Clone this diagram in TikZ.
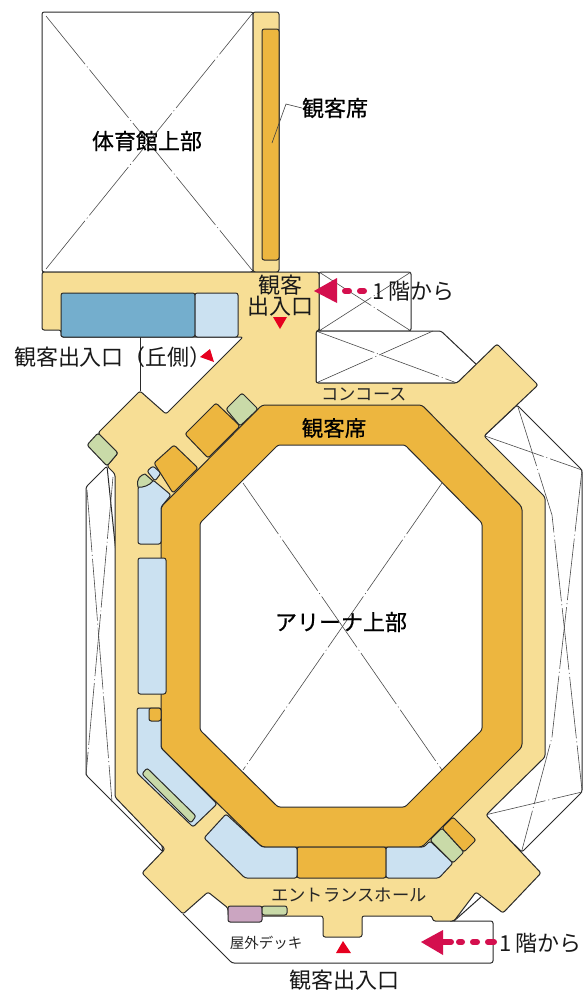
\documentclass[tikz,border=0pt]{standalone}
\usepackage{fontspec}
\setmainfont{Noto Sans CJK JP}
\newfontfamily\heavyjp[FakeBold=0.6]{Noto Sans CJK JP}
\definecolor{cyellow}{HTML}{F7DE95}
\definecolor{corange}{HTML}{EDB63F}
\definecolor{clight}{HTML}{CBE1F1}
\definecolor{cgreen}{HTML}{C9DAA8}
\definecolor{cblue}{HTML}{74AECD}
\definecolor{cpurple}{HTML}{CBA5C1}
\definecolor{cred}{HTML}{E6001F}
\definecolor{cmag}{HTML}{D40F4E}
\definecolor{cline}{HTML}{2A2A2A}
\tikzset{
  wall/.style={draw=cline,line width=1pt,line join=round},
  room/.style={wall,rounded corners=2.2pt},
  yel/.style={room,fill=cyellow},
  ora/.style={room,fill=corange},
  lig/.style={room,fill=clight},
  gre/.style={room,fill=cgreen},
  voidline/.style={draw=black!70,line width=0.6pt,dash pattern=on 62pt off 3pt on 1pt off 3pt},
  redtri/.style={fill=cred,draw=none},
  magtri/.style={fill=cmag,draw=none},
  magdash/.style={draw=cmag,line width=6pt,line cap=round},
  big/.style={text=black!90,inner sep=0pt,font=\fontsize{22}{25}\selectfont,align=center},
  strong/.style={text=black,inner sep=0pt,font=\heavyjp\fontsize{22}{25}\selectfont,align=center},
  mid/.style={text=black!85,inner sep=0pt,font=\fontsize{17.3}{20}\selectfont},
  small/.style={text=black!85,inner sep=0pt,font=\fontsize{14.5}{17}\selectfont}
}
\begin{document}
\begin{tikzpicture}[x=1pt,y=-1pt]
\useasboundingbox (0,0) rectangle (586,994);
\fill[white] (0,0) rectangle (586,994);

% void outlines
\draw[room,fill=white] (42,272) -- (42,12) -- (253,12) -- (253,272) -- cycle;
\draw[voidline] (46,16) -- (252,270);
\draw[voidline] (46,269) -- (252,14);

\draw[room,fill=white] (319,272) -- (411,272) -- (411,331) -- (319,331) -- cycle;
\draw[voidline] (319,331) -- (411,272);
\draw[voidline] (319,272) -- (411,331);

\draw[room,fill=white] (316,331) -- (441,331) -- (478,366) -- (457,383) -- (316,383) -- cycle;
\draw[voidline] (316,331) -- (457,383);
\draw[voidline] (316,383) -- (433,331);

\draw[room,fill=white] (517,405) -- (582,470) -- (582,792) -- (522,852) -- (484,815) -- (540,640) -- (484,436) -- cycle;
\draw[voidline] (485,436) -- (582,470);
\draw[voidline] (485,815) -- (582,792);
\draw[voidline] (518,407) -- (552,515) -- (582,790);
\draw[voidline] (582,470) -- (552,737) -- (522,850);

\draw[room,fill=white] (107,466) -- (86,487) -- (86,775) -- (163,852) -- (125,640) -- cycle;
\draw[voidline] (87,490) -- (112,802);
\draw[voidline] (113,477) -- (86,775);

\draw[wall] (140,337) -- (140,391);

% deck
\draw[room,fill=white] (183,914) -- (232,963) -- (493,963) -- (493,921) -- (450,921);
\draw[wall] (481,897) -- (454,921);

% gym strip
\draw[yel] (253,272) -- (253,12) -- (279,12) -- (279,272) -- cycle;
\draw[ora] (279,29) -- (262,29) -- (262,260) -- (279,260) -- cycle;

% concourse
\draw[yel] (42,272) -- (319,272) -- (319,331) -- (316,331) -- (316,383) -- (457,383)
  -- (497,344) -- (538,385) -- (484,436) -- (545,497) -- (545,757) -- (486,815)
  -- (541,873) -- (503,913) -- (476,892) -- (454,921) -- (433,921) -- (432,916)
  -- (362,916) -- (362,937) -- (323,937) -- (323,916) -- (228,916) -- (228,908)
  -- (208,892) -- (183,914) -- (142,873) -- (165,849) -- (115,797) -- (115,474)
  -- (107,466) -- (118,453) -- (98,433) -- (140,391) -- (166,414) -- (243,337)
  -- (61,337) -- (61,330) -- (42,330) -- cycle;

% arena
\draw[ora,rounded corners=3pt] (262,405) -- (422,405) -- (522,507) -- (522,747) -- (422,847)
  -- (262,847) -- (161,748) -- (161,507) -- cycle;
\draw[room,fill=white] (278,445) -- (405,445) -- (482,523) -- (482,730) -- (405,807)
  -- (278,807) -- (200,730) -- (200,523) -- cycle;
\draw[voidline] (243,483) -- (442,770);
\draw[voidline] (442,483) -- (243,770);

% stands and rooms
\draw[ora] (297,847) -- (386,847) -- (386,878) -- (297,878) -- cycle;
\draw[lig] (386,847) -- (424,847) -- (430,841) -- (453,863) -- (439,878) -- (386,878) -- cycle;
\draw[gre] (430,840) -- (442,828) -- (464,852) -- (453,863) -- cycle;
\draw[ora] (442,828) -- (453,817) -- (476,840) -- (464,852) -- cycle;
\draw[lig] (226,814) -- (262,847) -- (297,847) -- (297,878) -- (245,878) -- (204,838) -- cycle;
\draw[lig] (137,708) -- (161,708) -- (161,748) -- (217,804) -- (193,827) -- (189,823) -- (137,773) -- cycle;
\draw[gre] (147,768) -- (142,774) -- (191,823) -- (196,816) -- cycle;
\draw[ora] (149,708) -- (161,708) -- (161,721) -- (149,721) -- cycle;
\draw[lig] (138,558) -- (166,558) -- (166,694) -- (138,694) -- cycle;
\draw[lig] (138,487) -- (153,480) -- (171,495) -- (161,507) -- (161,544) -- (138,544) -- cycle;
\draw[gre,rounded corners=0pt] (138,487) .. controls (136,478) and (141,475) .. (145,474) -- (153,481) .. controls (150,485) and (143,488) .. (138,487) -- cycle;
\draw[lig] (147,471) -- (153,466) -- (161,473) -- (155,481) -- cycle;
\draw[ora] (154,463) -- (174,445) -- (198,468) -- (173,493) -- cycle;
\draw[ora] (185,434) -- (216,403) -- (240,426) -- (208,458) -- cycle;
\draw[gre] (226,409) -- (242,393) -- (258,409) -- (240,426) -- cycle;
\draw[gre] (98,433) -- (118,453) -- (107,466) -- (87,445) -- cycle;
\draw[room,fill=cblue] (61,293) -- (195,293) -- (195,337) -- (61,337) -- cycle;
\draw[lig] (195,293) -- (238,293) -- (238,337) -- (195,337) -- cycle;
\draw[room,fill=cpurple] (228,906) -- (262,906) -- (262,922) -- (228,922) -- cycle;
\draw[gre] (262,906) -- (287,906) -- (287,915) -- (262,915) -- cycle;

% marks
\fill[redtri] (273,317) -- (287,317) -- (280,329) -- cycle;
\fill[redtri] (200,357) -- (210,349) -- (214,362) -- cycle;
\fill[redtri] (343,941) -- (351,953) -- (336,953) -- cycle;

\fill[magtri] (314,291) -- (337,278) -- (337,303) -- cycle;
\draw[magdash] (345,291) -- (349,291);
\draw[magdash] (360,291) -- (364,291);
\fill[magtri] (421,942) -- (443,930) -- (443,955) -- cycle;
\draw[magdash] (443,942) -- (451,942);
\draw[magdash] (459,942) -- (462,942);
\draw[magdash] (473,942) -- (477,942);
\draw[magdash] (488,942) -- (494,942);

% labels
\coordinate (leadA) at (272,143);
\coordinate (leadB) at (286,104);
\node[strong] (seatgym) at (335,108) {観客席};
\draw[draw=black!75,line width=0.6pt] (leadA) -- (leadB) -- (seatgym.west);
\node[strong] (gym) at (147,141) {体育館上部};
\node[big,font=\fontsize{22}{21}\selectfont] (door) at (280,296) {観客\\出入口};
\node[big] (fromA) at (413.5,291) {1\hspace{4pt}階から};
\node[big] (hill) at (113,357) {観客出入口（丘側）};
\node[mid] (conc) at (364,394) {コンコース};
\node[strong,font=\heavyjp\fontsize{21.5}{24}\selectfont] (seat) at (334,428) {観客席};
\node[strong] (arena) at (341,622) {アリーナ上部};
\node[mid] (hall) at (349,895) {エントランスホール};
\node[small] (deck) at (266,943) {屋外デッキ};
\node[big] (fromB) at (540.5,943) {1\hspace{4pt}階から};
\node[big] (mainent) at (344,980) {観客出入口};
\end{tikzpicture}
\end{document}
